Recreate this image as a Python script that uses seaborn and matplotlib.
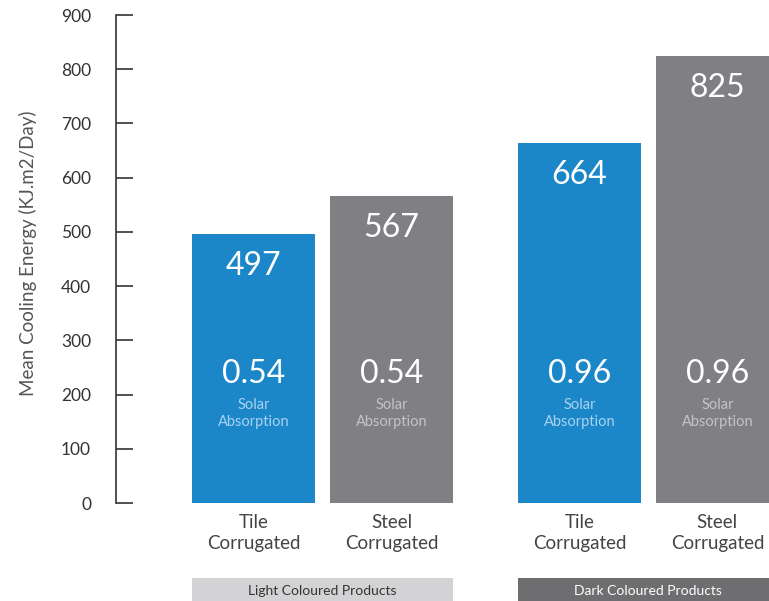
import matplotlib
matplotlib.use("Agg")
import matplotlib.pyplot as plt
import matplotlib.transforms as mtransforms
from matplotlib.patches import Rectangle
import seaborn as sns
import pandas as pd

# ---- data ----
categories = ["Tile\nCorrugated", "Steel\nCorrugated", "Tile\nCorrugated", "Steel\nCorrugated"]
materials = ["Tile", "Steel", "Tile", "Steel"]
energy = [497, 567, 664, 825]
absorption = ["0.54", "0.54", "0.96", "0.96"]
groups = ["Light Coloured Products", "Dark Coloured Products"]
yticks = [0, 100, 200, 300, 400, 500, 600, 700, 800, 900]

# ---- layout ----
positions = [0.0, 1.0, 2.362, 3.362]
bar_width = 0.891
palette = {"Tile": "#1b87c9", "Steel": "#808084"}
sub_colors = {"Tile": "#a9d2f0", "Steel": "#c4c4c8"}

sns.set_theme(style="white")
plt.rcParams["font.family"] = ["Lato", "DejaVu Sans"]

fig = plt.figure(figsize=(7.69, 6.01), dpi=100)
ax = fig.add_axes([116 / 769, 98 / 601, 1 - 116 / 769, 488 / 601])

df = pd.DataFrame({"pos": positions, "energy": energy, "material": materials})
sns.barplot(data=df, x="pos", y="energy", hue="material", palette=palette,
            native_scale=True, dodge=False, width=bar_width, legend=False,
            saturation=1, ax=ax, errorbar=None, linewidth=0)

ax.set_xlim(-0.996, 3.736)
ax.set_ylim(0, 900)
ax.set_yticks(yticks)
ax.set_yticklabels([str(t) for t in yticks], fontsize=12.5, color="#333333")
ax.tick_params(axis="y", direction="in", length=12.5, width=1.2, color="#333333", pad=18, left=True)
ax.set_xticks(positions)
ax.set_xticklabels(categories, fontsize=13.5, color="#444444", linespacing=1.25)
ax.tick_params(axis="x", length=0, pad=8)
for s in ["top", "right", "bottom"]:
    ax.spines[s].set_visible(False)
ax.spines["left"].set_color("#333333")
ax.spines["left"].set_linewidth(1.2)
ax.set_xlabel("")
ax.set_ylabel("Mean Cooling Energy (KJ.m2/Day)", fontsize=13.5, color="#555555")
ax.yaxis.set_label_coords(-(116 - 37) / 653, 0.512)

for x, v, a, m in zip(positions, energy, absorption, materials):
    ax.annotate(str(v), xy=(x, v), xytext=(0, -32), textcoords="offset pixels",
                ha="center", va="center", fontsize=23, color="white")
    ax.text(x, 237, a, ha="center", va="center", fontsize=23, color="white")
    ax.text(x, 180, "Solar", ha="center", va="center", fontsize=10.5, color=sub_colors[m])
    ax.text(x, 149, "Absorption", ha="center", va="center", fontsize=10.5, color=sub_colors[m])

# group boxes
trans = mtransforms.blended_transform_factory(ax.transData, fig.transFigure)
box_colors = ["#d3d3d5", "#6e6e71"]
text_colors = ["#333333", "#ffffff"]
for i, g in enumerate(groups):
    left = positions[2 * i] - bar_width / 2
    right = positions[2 * i + 1] + bar_width / 2
    rect = Rectangle((left, 0), right - left, 23 / 601, transform=trans,
                     facecolor=box_colors[i], edgecolor="none", clip_on=False, zorder=1)
    ax.add_patch(rect)
    ax.text((left + right) / 2, 10 / 601, g, transform=trans, ha="center", va="center",
            fontsize=10, color=text_colors[i], zorder=5, clip_on=False)

fig.savefig("out.png", dpi=100)
